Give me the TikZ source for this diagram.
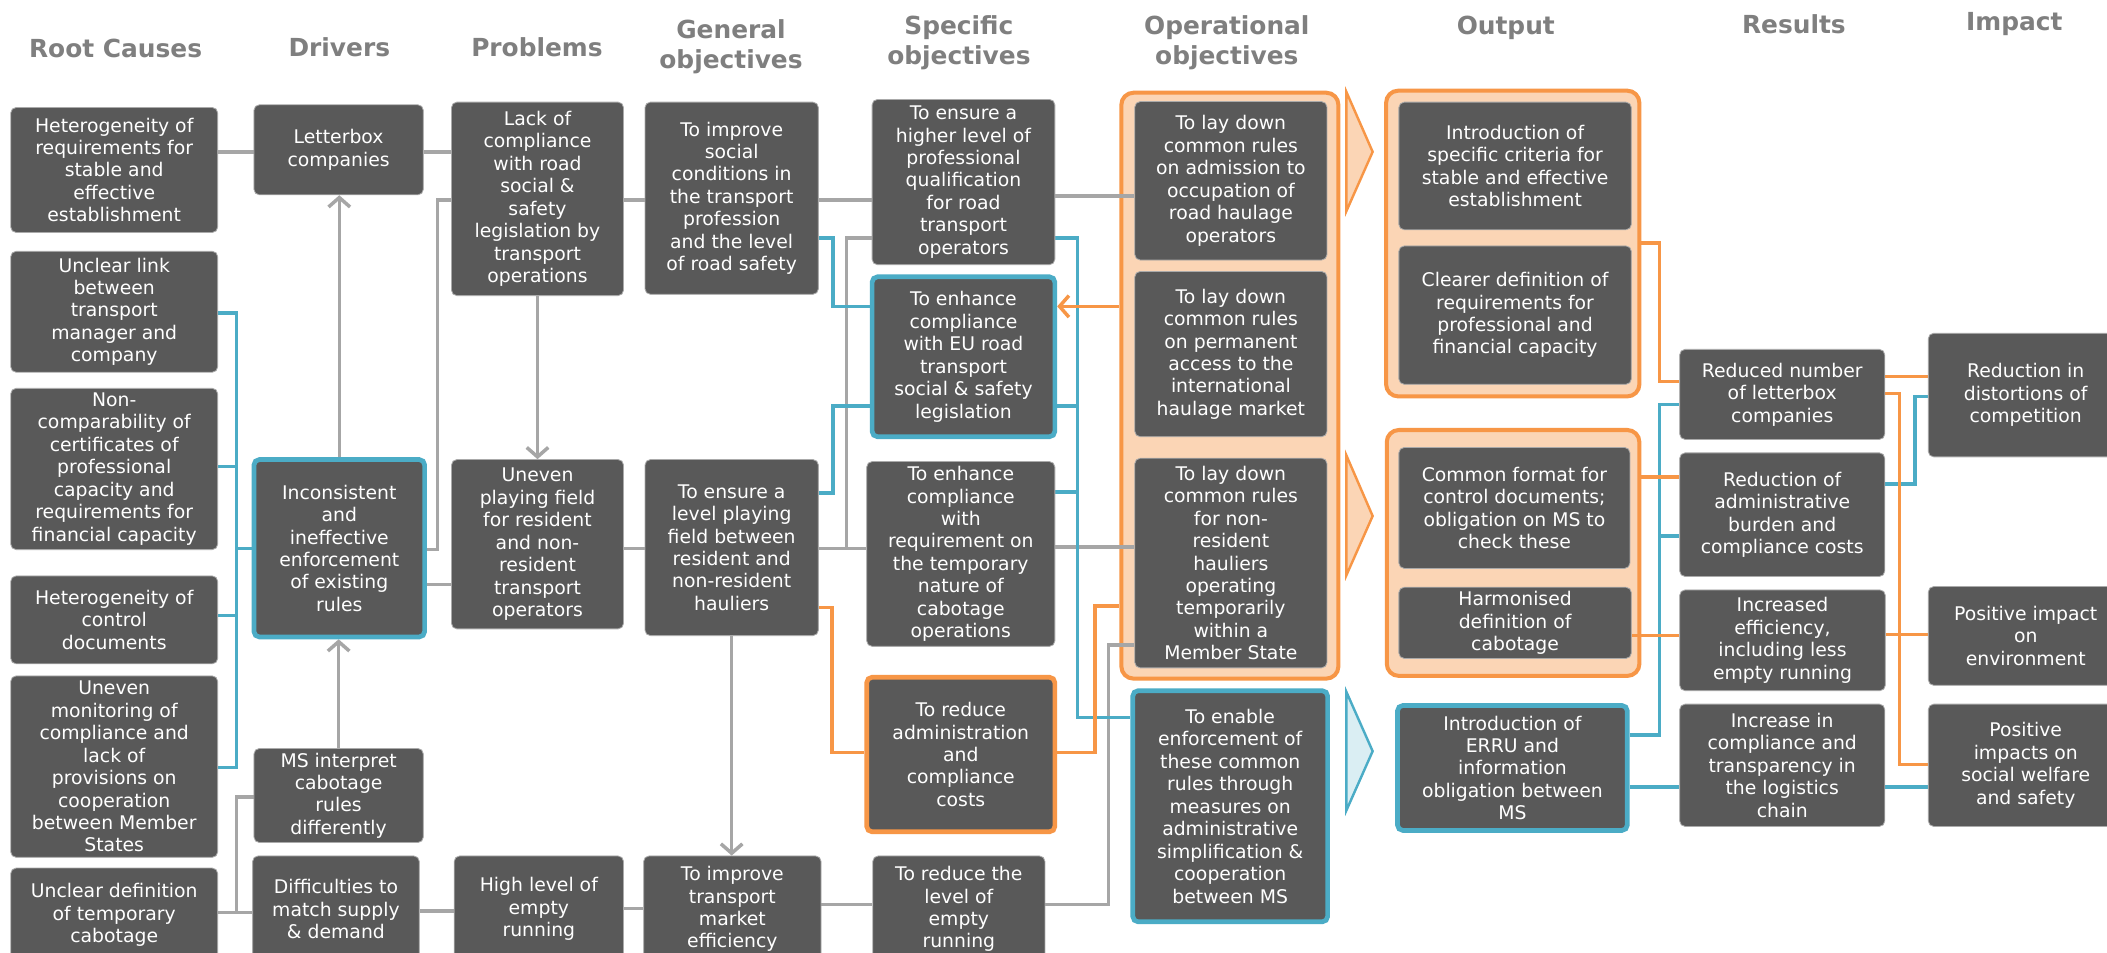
\documentclass[tikz,border=0pt]{standalone}
\usepackage{fontspec}
\setmainfont{DejaVu Sans}
\usetikzlibrary{arrows.meta}
\pgfdeclarelayer{bg}
\pgfdeclarelayer{mid}
\pgfsetlayers{bg,mid,main}
\definecolor{boxgray}{RGB}{89,89,89}
\definecolor{lngray}{RGB}{166,166,166}
\definecolor{lnblue}{RGB}{75,172,198}
\definecolor{lnorange}{RGB}{247,150,70}
\definecolor{peach}{RGB}{251,213,181}
\definecolor{lblue}{RGB}{218,238,243}
\definecolor{hdgray}{RGB}{127,127,127}
\definecolor{edgegray}{RGB}{170,170,170}
\tikzset{
  box/.style={fill=boxgray, draw=edgegray, line width=0.6pt, rounded corners=4pt, text=white,
    align=center, inner sep=0pt, font=\fontsize{14}{16.7}\selectfont},
  bluebox/.style={draw=lnblue, line width=3.5pt},
  orangebox/.style={draw=lnorange, line width=3.5pt},
  cont/.style={fill=peach, draw=lnorange, line width=3pt, rounded corners=9pt, inner sep=0pt},
  hdr/.style={text=hdgray, font=\fontsize{18.5}{22.4}\selectfont\bfseries, align=center},
  gl/.style={draw=lngray, line width=2.6pt},
  bl/.style={draw=lnblue, line width=2.6pt},
  ol/.style={draw=lnorange, line width=2.6pt},
  tip/.style={-{Straight Barb[length=7pt,width=16pt]}},
  chevo/.style={fill=peach, draw=lnorange, line width=1.8pt},
  chevb/.style={fill=lblue, draw=lnblue, line width=1.8pt}
}
\newcommand\mkn[7][]{%
  \pgfmathsetmacro\mkcx{(#3+#5)/2}%
  \pgfmathsetmacro\mkcy{(#4+#6)/2}%
  \pgfmathsetmacro\mkw{#5-#3}%
  \pgfmathsetmacro\mkh{#6-#4}%
  \node[#1,minimum width=\mkw pt,minimum height=\mkh pt] (#2) at (\mkcx,\mkcy) {#7};}
\begin{document}
\begin{tikzpicture}[x=1pt,y=-1pt]
\useasboundingbox (0,0) rectangle (1568,709);

% headers
\node[hdr] (hrc) at (86,36) {Root Causes};
\node[hdr] (hdv) at (252.5,35) {Drivers};
\node[hdr] (hpb) at (399.6,35) {Problems};
\node[hdr] (hgo) at (544,35) {General\\objectives};
\node[hdr] (hso) at (713.6,32) {Specific\\objectives};
\node[hdr] (hoo) at (913,32) {Operational\\objectives};
\node[hdr] (hout) at (1120.6,21) {Output};
\node[hdr] (hres) at (1335,18) {Results};
\node[hdr] (himp) at (1499,18) {Impact};

% containers and chevrons
\begin{pgfonlayer}{bg}
\fill[white] (0,0) rectangle (1568,709);
\mkn[cont]{ooc}{834.5}{69}{996}{505}{}
\mkn[cont]{outc1}{1031.5}{67.5}{1220}{295}{}
\mkn[cont]{outc2}{1032}{320}{1220}{503}{}
\path[chevo] (1002,68.5) -- (1021.5,113) -- (1002,157) -- cycle;
\path[chevo] (1002,339) -- (1021.5,384) -- (1002,428) -- cycle;
\path[chevb] (1002,515) -- (1021.5,559) -- (1002,603) -- cycle;
\end{pgfonlayer}

% boxes
\mkn[box]{rc1}{8}{80}{162}{173}{Heterogeneity of\\requirements for\\stable and\\effective\\establishment}
\mkn[box]{rc2}{8}{187}{162}{277}{Unclear link\\between\\transport\\manager and\\company}
\mkn[box]{rc3}{8}{289}{162}{409}{Non-\\comparability of\\certificates of\\professional\\capacity and\\requirements for\\financial capacity}
\mkn[box]{rc4}{8}{428.6}{162}{494}{Heterogeneity of\\control\\documents}
\mkn[box]{rc5}{8}{503}{162}{638}{Uneven\\monitoring of\\compliance and\\lack of\\provisions on\\cooperation\\between Member\\States}
\mkn[box]{rc6}{8}{646}{162}{716}{Unclear definition\\of temporary\\cabotage}

\mkn[box]{d1}{189}{78}{315}{145}{Letterbox\\companies}
\mkn[box,bluebox]{d2}{189}{342}{316}{474}{Inconsistent\\and\\ineffective\\enforcement\\of existing\\rules}
\mkn[box]{d3}{189}{557}{315}{627}{MS interpret\\cabotage\\rules\\differently}
\mkn[box]{d4}{188}{637}{312}{716}{Difficulties to\\match supply\\\& demand}

\mkn[box]{p1}{336}{76}{464}{220}{Lack of\\compliance\\with road\\social \&\\safety\\legislation by\\transport\\operations}
\mkn[box]{p2}{336}{342}{464}{468}{Uneven\\playing field\\for resident\\and non-\\resident\\transport\\operators}
\mkn[box]{p3}{338}{637}{464}{716}{High level of\\empty\\running}

\mkn[box]{go1}{480}{76}{609}{219}{To improve\\social\\conditions in\\the transport\\profession\\and the level\\of road safety}
\mkn[box]{go2}{480}{342}{609}{473}{To ensure a\\level playing\\field between\\resident and\\non-resident\\hauliers}
\mkn[box]{go3}{479}{637}{611}{716}{To improve\\transport\\market\\efficiency}

\mkn[box]{so1}{649}{74}{785}{197}{To ensure a\\higher level of\\professional\\qualification\\for road\\transport\\operators}
\mkn[box,bluebox]{so2}{649}{206}{785}{325}{To enhance\\compliance\\with EU road\\transport\\social \& safety\\legislation}
\mkn[box]{so3}{645}{343.5}{785}{481}{To enhance\\compliance\\with\\requirement on\\the temporary\\nature of\\cabotage\\operations}
\mkn[box,orangebox]{so4}{645}{504}{785}{619}{To reduce\\administration\\and\\compliance\\costs}
\mkn[box]{so5}{649.5}{637}{777.6}{716}{To reduce the\\level of\\empty\\running}

\mkn[box]{oo1}{844.5}{75.6}{987.5}{193.5}{To lay down\\common rules\\on admission to\\occupation of\\road haulage\\operators}
\mkn[box]{oo2}{844.5}{202}{987.5}{325}{To lay down\\common rules\\on permanent\\access to the\\international\\haulage market}
\mkn[box]{oo3}{844.5}{341}{987.5}{497}{To lay down\\common rules\\for non-\\resident\\hauliers\\operating\\temporarily\\within a\\Member State}
\mkn[box,bluebox]{oo4}{843}{514}{988}{686}{To enable\\enforcement of\\these common\\rules through\\measures on\\administrative\\simplification \&\\cooperation\\between MS}

\mkn[box]{out1}{1041}{76}{1214}{171}{Introduction of\\specific criteria for\\stable and effective\\establishment}
\mkn[box]{out2}{1041}{183}{1214}{286}{Clearer definition of\\requirements for\\professional and\\financial capacity}
\mkn[box]{out3}{1041}{333}{1213}{423}{Common format for\\control documents;\\obligation on MS to\\check these}
\mkn[box]{out4}{1041}{437}{1214}{490}{Harmonised\\definition of\\cabotage}
\mkn[box,bluebox]{out5}{1040}{525}{1211}{618}{Introduction of\\ERRU and\\information\\obligation between\\MS}

\mkn[box]{r1}{1250}{260}{1402.6}{327}{Reduced number\\of letterbox\\companies}
\mkn[box]{r2}{1250}{337}{1402.6}{429}{Reduction of\\administrative\\burden and\\compliance costs}
\mkn[box]{r3}{1250}{439}{1403}{514}{Increased\\efficiency,\\including less\\empty running}
\mkn[box]{r4}{1250}{524}{1402.6}{615}{Increase in\\compliance and\\transparency in\\the logistics\\chain}

\mkn[box]{i1}{1435}{248}{1580}{340}{Reduction in\\distortions of\\competition}
\mkn[box]{i2}{1435}{436.5}{1580}{510}{Positive impact\\on\\environment}
\mkn[box]{i3}{1435}{524}{1580}{615}{Positive\\impacts on\\social welfare\\and safety}

\begin{pgfonlayer}{mid}
% gray connectors
\draw[gl] (rc1.east |- 0,113) -- (d1.west |- 0,113);
\draw[gl] (d1.east |- 0,113) -- (p1.west |- 0,113);
\draw[gl] (p1.east |- 0,149) -- (go1.west |- 0,149);
\draw[gl] (go1.east |- 0,149) -- (so1.west |- 0,149);
\draw[gl] (so1.east |- 0,146) -- (oo1.west |- 0,146);
\draw[gl,tip] (d2.north) -- (d2.north |- d1.south);
\draw[gl,tip] (d3.north) -- (d3.north |- d2.south);
\draw[gl,tip] (p1.south) -- (p1.south |- p2.north);
\draw[gl] (d2.east |- 0,409) -| (325.5,149) -- (p1.west |- 0,149);
\draw[gl] (d2.east |- 0,435) -- (p2.west |- 0,435);
\draw[gl] (p2.east |- 0,408) -- (go2.west |- 0,408);
\draw[gl] (go2.east |- 0,408) -- (so3.west |- 0,408);
\coordinate (gj) at (630,408);
\draw[gl] (gj) |- (so1.west |- 0,177);
\draw[gl] (so3.east |- 0,407) -- (oo3.west |- 0,407);
\draw[gl,tip] (go2.south) -- (go2.south |- go3.north);
\draw[gl] (rc6.east |- 0,679) -- (d4.west |- 0,679);
\coordinate (gb) at (176,679);
\draw[gl] (gb) |- (d3.west |- 0,593);
\draw[gl] (d4.east |- 0,678) -- (p3.west |- 0,678);
\draw[gl] (p3.east |- 0,676) -- (go3.west |- 0,676);
\draw[gl] (go3.east |- 0,673) -- (so5.west |- 0,673);
\draw[gl] (so5.east |- 0,673) -| (825,480) -- (oo3.west |- 0,480);
% blue connectors
\coordinate (bb1) at (176,233);
\coordinate (bb2) at (176,571);
\draw[bl] (rc2.east |- 0,233) -- (bb1) -- (bb2) -- (rc5.east |- 0,571);
\draw[bl] (rc3.east |- 0,347) -- (176,347);
\draw[bl] (rc4.east |- 0,458) -- (176,458);
\draw[bl] (176,408) -- (d2.west |- 0,408);
\draw[bl] (go1.east |- 0,177) -| (620,228) -- (so2.west |- 0,228);
\draw[bl] (go2.east |- 0,367) -| (620,302) -- (so2.west |- 0,302);
\draw[bl] (so1.east |- 0,177) -| (802,534) -- (oo4.west |- 0,534);
\draw[bl] (so2.east |- 0,302) -- (802,302);
\draw[bl] (so3.east |- 0,366) -- (802,366);
\draw[bl] (out5.east |- 0,547) -| (1235,301) -- (r1.west |- 0,301);
\draw[bl] (1235,399) -- (r2.west |- 0,399);
\draw[bl] (out5.east |- 0,585.5) -- (r4.west |- 0,585.5);
\draw[bl] (r4.east |- 0,585.5) -- (i3.west |- 0,585.5);
\draw[bl] (r2.east |- 0,360) -| (1425,295) -- (i1.west |- 0,295);
% orange connectors
\draw[ol,tip] (ooc.west |- 0,228) -- (so2.east |- 0,228);
\draw[ol] (go2.east |- 0,452) -| (619,560) -- (so4.west |- 0,560);
\draw[ol] (so4.east |- 0,560) -| (815,451) -- (ooc.west |- 0,451);
\draw[ol] (outc1.east |- 0,181) -| (1235,284) -- (r1.west |- 0,284);
\draw[ol] (outc2.east |- 0,355) -- (r2.west |- 0,355);
\draw[ol] (out4.east |- 0,473) -- (r3.west |- 0,473);
\draw[ol] (r1.east |- 0,280) -- (i1.west |- 0,280);
\draw[ol] (r1.east |- 0,293) -| (1413.5,569) -- (i3.west |- 0,569);
\draw[ol] (r3.east |- 0,472) -- (i2.west |- 0,472);
\end{pgfonlayer}
\end{tikzpicture}
\end{document}
